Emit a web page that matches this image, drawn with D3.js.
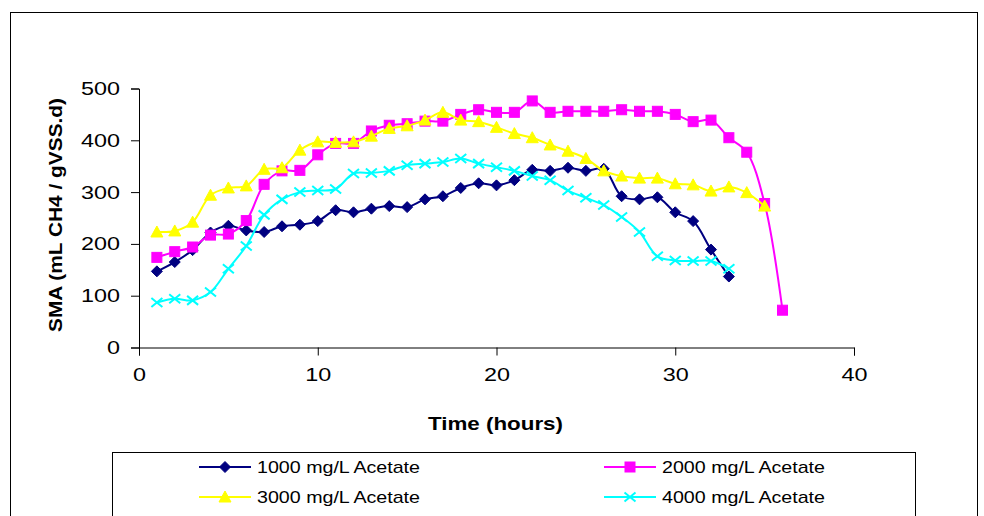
<!DOCTYPE html>
<html><head><meta charset="utf-8">
<script src="https://cdn.jsdelivr.net/npm/d3@7"></script>
<style>body{margin:0;background:#fff}svg{display:block;font-family:"Liberation Sans",Arial,sans-serif}</style>
</head><body>
<svg id="c" width="984" height="516"></svg>
<script>
const hours = d3.range(1, 37);
const seriesNames = ["1000 mg/L Acetate","2000 mg/L Acetate","3000 mg/L Acetate","4000 mg/L Acetate"];
const sma1000 = [147,165,188,222,235,226,223,234,237,244,265,261,268,273,271,286,292,308,317,313,323,343,341,347,341,345,292,286,290,261,244,189,137];
const sma2000 = [174,185,194,217,219,245,315,341,342,372,394,394,418,429,432,437,437,450,459,454,454,476,454,456,456,456,459,456,456,450,436,439,405,377,278,72];
const sma3000 = [223,225,242,294,308,312,344,347,381,397,396,397,408,423,428,439,454,439,436,425,413,405,391,379,365,341,331,327,327,316,314,302,310,299,273];
const sma4000 = [87,94,91,107,152,196,256,286,300,303,306,336,337,341,352,355,358,365,355,348,341,331,323,303,289,275,252,223,176,168,167,167,152];
const xTicks = [0,10,20,30,40];
const yTicks = [0,100,200,300,400,500];
const colors = ["#000080","#FF00FF","#FFFF00","#00FFFF"];
const markers = ["diamond","square","triangle","cross"];
const allSeries = [sma1000, sma2000, sma3000, sma4000];

const svg = d3.select("#c");
const x = d3.scaleLinear().domain([0,40]).range([139, 854]);
const y = d3.scaleLinear().domain([0,500]).range([347.5, 88.5]);

// outer border
svg.append("rect").attr("x",10.5).attr("y",12.5).attr("width",967).attr("height",530)
  .attr("fill","none").attr("stroke","#000").attr("stroke-width",1);

// axes
const gx = svg.append("g").attr("transform",`translate(0,${y(0)})`)
  .call(d3.axisBottom(x).tickValues(xTicks).tickSize(8).tickPadding(12));
const gy = svg.append("g").attr("transform",`translate(${x(0)},0)`)
  .call(d3.axisLeft(y).tickValues(yTicks).tickSize(8).tickPadding(11));
[gx,gy].forEach(g=>{
  g.select(".domain").attr("stroke","#000").attr("stroke-width",1);
  g.selectAll(".tick line").attr("stroke","#000");
  g.selectAll(".tick text").attr("fill","#000").attr("font-size",18.5)
    .attr("font-family","Liberation Sans, Arial, sans-serif")
    .attr("lengthAdjust","spacingAndGlyphs")
    .attr("textLength", function(){ return this.textContent.length*13; });
});
gx.selectAll(".tick text").attr("dy","0.71em");

// axis titles
svg.append("text").attr("x",495.5).attr("y",430).attr("text-anchor","middle")
  .attr("font-size",18.5).attr("font-weight","bold").attr("textLength",135).attr("lengthAdjust","spacingAndGlyphs")
  .text("Time (hours)");
svg.append("text").attr("transform","translate(62,215) rotate(-90)").attr("text-anchor","middle")
  .attr("font-size",18.5).attr("font-weight","bold").attr("textLength",234).attr("lengthAdjust","spacingAndGlyphs")
  .text("SMA (mL CH4 / gVSS.d)");

function drawMarker(g, type, color, cx, cy){
  if(type==="diamond"){
    g.append("path").attr("d",`M${cx},${cy-5.5}L${cx+5.5},${cy}L${cx},${cy+5.5}L${cx-5.5},${cy}Z`).attr("fill",color).attr("stroke",color);
  } else if(type==="square"){
    g.append("rect").attr("x",cx-5).attr("y",cy-5).attr("width",10).attr("height",10).attr("fill",color).attr("stroke",color);
  } else if(type==="triangle"){
    g.append("path").attr("d",`M${cx},${cy-6}L${cx+6},${cy+5}L${cx-6},${cy+5}Z`).attr("fill",color).attr("stroke",color);
  } else {
    g.append("path").attr("d",`M${cx-5.5},${cy-4.5}L${cx+5.5},${cy+4.5}M${cx-5.5},${cy+4.5}L${cx+5.5},${cy-4.5}`)
      .attr("fill","none").attr("stroke",color).attr("stroke-width",2);
  }
}

const line = d3.line().x(d=>x(d[0])).y(d=>y(d[1])).curve(d3.curveCatmullRom.alpha(0.5));
allSeries.forEach((vals,i)=>{
  const pts = vals.map((v,j)=>[hours[j], v]);
  const g = svg.append("g");
  g.append("path").attr("d",line(pts)).attr("fill","none").attr("stroke",colors[i]).attr("stroke-width",2);
  pts.forEach(p=>drawMarker(g, markers[i], colors[i], x(p[0]), y(p[1])));
});

// legend
svg.append("rect").attr("x",112.5).attr("y",452.5).attr("width",803).attr("height",90)
  .attr("fill","#fff").attr("stroke","#000").attr("stroke-width",1);
const legPos = [[199,467],[604,467],[199,497],[604,497]];
seriesNames.forEach((name,i)=>{
  const [lx,ly] = legPos[i];
  const g = svg.append("g");
  g.append("line").attr("x1",lx).attr("x2",lx+52).attr("y1",ly).attr("y2",ly).attr("stroke",colors[i]).attr("stroke-width",2);
  drawMarker(g, markers[i], colors[i], lx+26, ly);
  g.append("text").attr("x",lx+58).attr("y",ly+6).attr("font-size",17).attr("textLength",163).attr("lengthAdjust","spacingAndGlyphs").text(name);
});
</script>
</body></html>
